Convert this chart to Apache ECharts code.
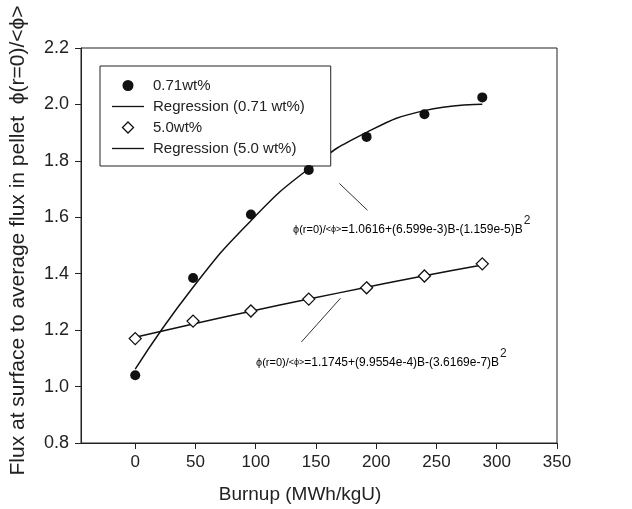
<!DOCTYPE html>
<html>
<head>
<meta charset="utf-8">
<script src="https://cdn.jsdelivr.net/npm/echarts@6/dist/echarts.min.js"></script>
<style>html,body{margin:0;padding:0;background:#fff;}#c{width:632px;height:509px;}</style>
</head>
<body>
<div id="c"></div>
<script>
// Data
const burnup = [0, 48, 96, 144, 192, 240, 288];
const flux071 = [1.04, 1.385, 1.61, 1.768, 1.885, 1.965, 2.025];
const flux50 = [1.17, 1.232, 1.268, 1.31, 1.35, 1.392, 1.435];
const reg071 = [1.062, 1.352, 1.588, 1.772, 1.901, 1.978, 2.001];
const reg50 = [1.175, 1.222, 1.267, 1.310, 1.352, 1.393, 1.431];
const xTicks = [0, 50, 100, 150, 200, 250, 300, 350];
const leader1 = [[169.4, 1.720], [192.7, 1.625]];
const leader2 = [[137.9, 1.158], [170.3, 1.313]];
const eq1 = '=1.0616+(6.599e-3)B-(1.159e-5)B';
const eq2 = '=1.1745+(9.9554e-4)B-(3.6169e-7)B';

const pair = (xs, ys) => xs.map((x, i) => [x, ys[i]]);
const font = 'Liberation Sans, Arial, sans-serif';

const chart = echarts.init(document.getElementById('c'), null, {renderer: 'canvas'});
chart.setOption({
  animation: false,
  backgroundColor: '#fff',
  textStyle: {fontFamily: font},
  grid: {left: 81, right: 75, top: 48, bottom: 66, show: true, borderColor: '#222', borderWidth: 1, backgroundColor: 'transparent'},
  xAxis: {
    type: 'value', min: -45, max: 350,
    name: 'Burnup (MWh/kgU)', nameLocation: 'middle', nameGap: 42,
    nameTextStyle: {fontSize: 19, color: '#222', fontFamily: font, padding: [0, 38, 0, 0]},
    axisLine: {show: true, onZero: false, lineStyle: {color: '#222', width: 1}},
    axisTick: {show: true, length: 6, lineStyle: {color: '#222'}, customValues: xTicks},
    axisLabel: {fontSize: 17, color: '#222', margin: 11, fontFamily: font, customValues: xTicks},
    splitLine: {show: false}
  },
  yAxis: {
    type: 'value', min: 0.8, max: 2.2, interval: 0.2,
    name: 'Flux at surface to average flux in pellet  \u03d5(r=0)/<\u03d5>', nameLocation: 'middle', nameGap: 52,
    nameTextStyle: {fontSize: 21, color: '#222', fontFamily: font, padding: [0, 0, 0, 10]},
    axisLine: {show: true, onZero: false, lineStyle: {color: '#222', width: 1}},
    axisTick: {show: true, length: 6, lineStyle: {color: '#222'}},
    axisLabel: {fontSize: 18, color: '#222', margin: 12, fontFamily: font, formatter: v => v.toFixed(1)},
    splitLine: {show: false}
  },
  legend: {
    orient: 'vertical', left: 100, top: 66,
    padding: [12, 26, 10, 12], itemGap: 6, itemWidth: 32, itemHeight: 11,
    symbolKeepAspect: true,
    borderColor: '#222', borderWidth: 1, backgroundColor: '#fff',
    textStyle: {fontSize: 15, color: '#222', fontFamily: font, padding: [0, 0, 0, 4]},
    data: [
      {name: '0.71wt%', icon: 'circle'},
      {name: 'Regression (0.71 wt%)', icon: 'path://M0,0H32V1.3H0Z'},
      {name: '5.0wt%', icon: 'path://M6,0L12,6L6,12L0,6Z', itemStyle: {color: '#fff', borderColor: '#111', borderWidth: 1.3}},
      {name: 'Regression (5.0 wt%)', icon: 'path://M0,0H32V1.3H0Z'}
    ]
  },
  series: [
    {name: 'Regression (0.71 wt%)', type: 'line', smooth: true, symbol: 'none', z: 2,
     lineStyle: {color: '#111', width: 1.5}, itemStyle: {color: '#111'}, data: pair(burnup, reg071)},
    {name: 'Regression (5.0 wt%)', type: 'line', smooth: true, symbol: 'none', z: 2,
     lineStyle: {color: '#111', width: 1.5}, itemStyle: {color: '#111'}, data: pair(burnup, reg50)},
    {name: '0.71wt%', type: 'scatter', symbol: 'circle', symbolSize: 10, z: 4,
     itemStyle: {color: '#111', borderColor: '#111', borderWidth: 0, opacity: 1}, data: pair(burnup, flux071)},
    {name: '5.0wt%', type: 'scatter', symbol: 'diamond', symbolSize: 12, z: 4,
     itemStyle: {color: '#fff', borderColor: '#111', borderWidth: 1.3, opacity: 1}, data: pair(burnup, flux50)},
    {name: 'leader1', type: 'line', symbol: 'none', silent: true, z: 1,
     lineStyle: {color: '#333', width: 1}, data: leader1},
    {name: 'leader2', type: 'line', symbol: 'none', silent: true, z: 1,
     lineStyle: {color: '#333', width: 1}, data: leader2}
  ]
});

const measure = (() => {
  const ctx = document.createElement('canvas').getContext('2d');
  return (txt, size) => { ctx.font = size + 'px ' + font; return ctx.measureText(txt).width; };
})();
const pTxt = '\u03d5(r=0)/', sTxt = '<\u03d5>';
function eqText(txt) {
  return '{p|' + pTxt + '}{s|' + sTxt + '}{m|' + txt + '}';
}
function eqWidth(txt) {
  return measure(pTxt, 11) + measure(sTxt, 9) + measure(txt, 12);
}
const rich = {
  p: {fontSize: 11, color: '#555', fontFamily: font},
  s: {fontSize: 9, color: '#555', fontFamily: font},
  m: {fontSize: 12, color: '#222', fontFamily: font}
};
const eqs = [
  {txt: eq1, x: 293, y: 230},
  {txt: eq2, x: 256, y: 363}
];
const graphics = [];
eqs.forEach(e => {
  graphics.push({type: 'text', x: e.x, y: e.y, style: {text: eqText(e.txt), rich: rich, verticalAlign: 'middle', align: 'left'}});
  graphics.push({type: 'text', x: e.x + eqWidth(e.txt) + 1, y: e.y - 9,
    style: {text: '2', fill: '#222', font: '12px ' + font, verticalAlign: 'middle', align: 'left'}});
});
chart.setOption({graphic: graphics});
</script>
</body>
</html>
